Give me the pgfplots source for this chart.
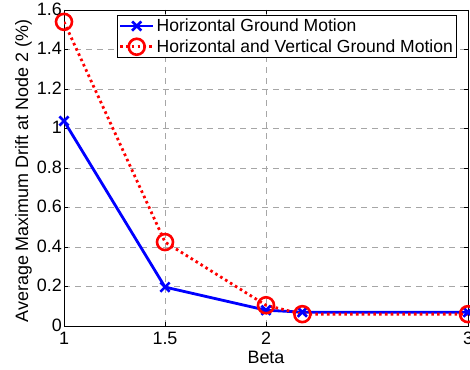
\documentclass[border=0pt]{standalone}
\usepackage{pgfplots}
\pgfplotsset{compat=1.18}
\usepackage{fontspec}
\setmainfont{Liberation Sans}
\begin{document}
\begin{tikzpicture}
\begin{axis}[
  scale only axis,
  width=404bp, height=316bp,
  xmin=1, xmax=3, ymin=0, ymax=1.6,
  xtick={1,1.5,2,3},
  ytick={0,0.2,0.4,0.6,0.8,1,1.2,1.4,1.6},
  yticklabels={0,0.2,0.4,0.6,0.8,1,1.2,1.4,1.6},
  xticklabels={1,1.5,2,3},
  /pgf/number format/assume math mode=true,
  tick align=inside,
  major tick length=4bp,
  tick style={black, line width=0.6bp},
  axis line style={black, line width=0.8bp},
  grid=major,
  major grid style={gray!70, dash pattern=on 6bp off 5bp, line width=0.6bp},
  tick label style={font=\fontsize{18}{21}\selectfont},
  xticklabel style={anchor=base, yshift=-18bp},
  yticklabel style={anchor=east, inner sep=0pt, xshift=-2bp, yshift=1bp},
  label style={font=\fontsize{18}{21}\selectfont},
  xlabel={Beta},
  ylabel={Average Maximum Drift at Node 2 (\%)},
  xlabel style={at={(axis description cs:0.5,0)}, anchor=base, yshift=-37bp},
  ylabel style={at={(axis description cs:-0.0891,0.49)}, anchor=base},
  legend cell align=left,
  legend style={at={(0.131,0.984)}, anchor=north west, draw=black, line width=0.8bp,
    font=\fontsize{17.6}{20}\selectfont, inner sep=1.5bp, row sep=2.5bp},
  legend image code/.code={
    \draw[#1] (0bp,0bp) -- (33bp,0bp);
    \draw[#1, mark repeat=2, mark phase=2] plot coordinates {(0bp,0bp) (16.5bp,0bp) (33bp,0bp)};
  },
]
\addplot[blue, line width=2.8bp, mark=x, mark size=6.5bp, mark options={solid, line width=2.6bp}]
  coordinates {(1,1.038) (1.5,0.197) (2,0.08) (2.18,0.07) (3,0.07)};
\addlegendentry{Horizontal Ground Motion}
\addplot[red, line width=2.8bp, dash pattern=on 2.6bp off 3.2bp, mark=o, mark size=8bp, mark options={solid, line width=2.6bp}]
  coordinates {(1,1.54) (1.5,0.425) (2,0.105) (2.18,0.06) (3,0.06)};
\addlegendentry{Horizontal and Vertical Ground Motion}
\end{axis}
\pgfresetboundingbox
\path[use as bounding box] ([shift={(-64bp,-44bp)}]current axis.south west) rectangle ([shift={(2bp,10bp)}]current axis.north east);
\end{tikzpicture}
\end{document}
